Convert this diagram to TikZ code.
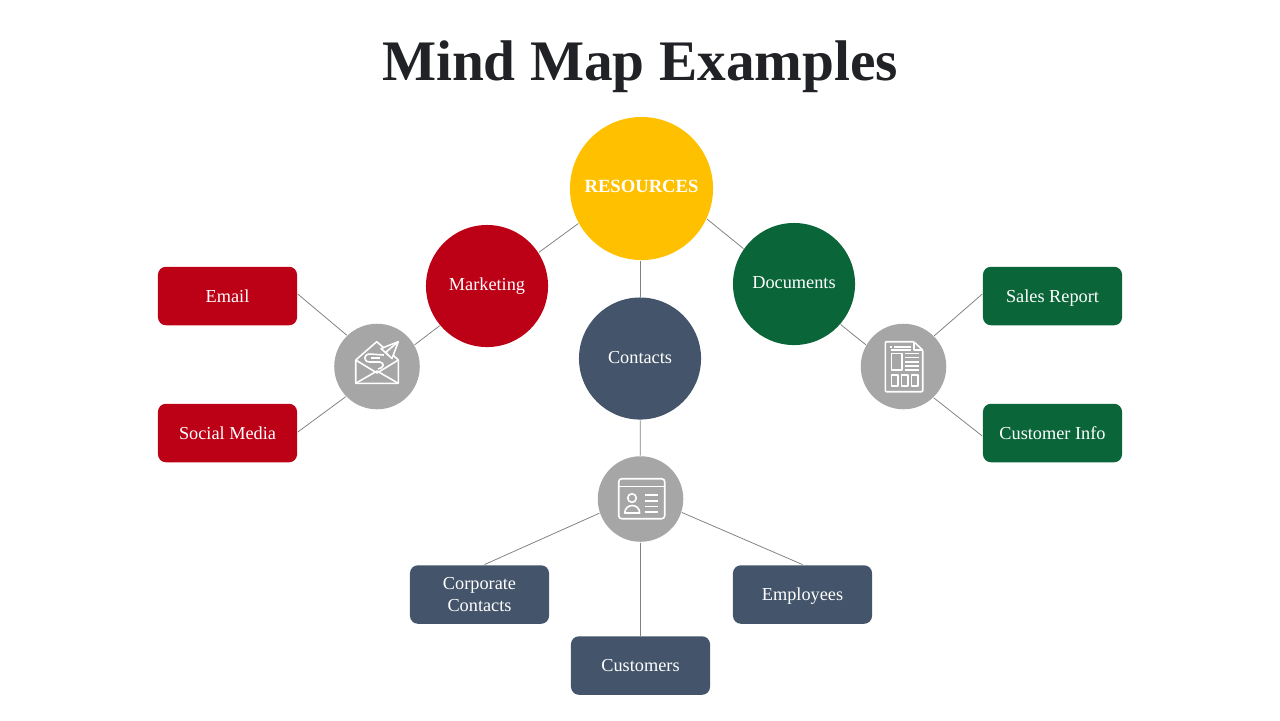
\documentclass[tikz,border=0pt]{standalone}
\usepackage{fontspec}
\setmainfont{Liberation Serif}
\usetikzlibrary{backgrounds,positioning}
\definecolor{resyellow}{HTML}{FFC000}
\definecolor{mapred}{HTML}{BC0016}
\definecolor{mapgreen}{HTML}{0A6539}
\definecolor{mapslate}{HTML}{44546A}
\definecolor{mapgrey}{HTML}{A6A6A6}
\definecolor{titleink}{HTML}{212226}
\tikzset{%
	hub/.style      = {circle, text=white, inner sep=0pt, minimum size=1.22cm, font=\fontsize{5.2}{6.2}\selectfont},
	iconhub/.style  = {circle, fill=mapgrey, inner sep=0pt, minimum size=0.855cm},
	leaf/.style     = {rectangle, rounded corners=0.08cm, text=white, inner sep=0pt, minimum width=1.39cm, minimum height=0.585cm, align=center, font=\fontsize{5.2}{6}\selectfont},
	oneline/.style  = {text height=0.14cm, text depth=0.02cm},
	link/.style     = {draw=black!50, line width=0.22pt},
	iconline/.style = {draw=white, line width=0.45pt, line join=round},
}
\begin{document}
\begin{tikzpicture}[x=0.01cm,y=-0.01cm]
	\useasboundingbox (0,0) rectangle (1280,720);
	\node[text=titleink,font=\fontsize{16.3}{18}\selectfont\bfseries] (title) at (640,67) {Mind Map Examples};
	% circles
	\node[hub,fill=resyellow,minimum size=1.43cm,font=\fontsize{5.3}{7}\selectfont\bfseries] (resources) at (641.5,188.5) {\raisebox{0.05cm}{RESOURCES}};
	\node[hub,fill=mapred] (marketing) at (487,286) {\raisebox{0.03cm}{Marketing}};
	\node[hub,fill=mapgreen] (documents) at (794,284) {\raisebox{0.03cm}{Documents}};
	\node[hub,fill=mapslate] (contacts) at (640,358.5) {\raisebox{0.02cm}{Contacts}};
	\node[iconhub] (mailhub) at (377,366.5) {};
	\node[iconhub] (dochub) at (903.5,366.5) {};
	\node[iconhub] (cardhub) at (640.5,499) {};
	% boxes
	\node[leaf,oneline,fill=mapred] (email) at (227.5,296) {Email};
	\node[leaf,oneline,fill=mapred] (social) at (227.5,433) {Social Media};
	\node[leaf,oneline,fill=mapgreen] (sales) at (1052.5,296) {Sales Report};
	\node[leaf,oneline,fill=mapgreen] (custinfo) at (1052.5,433) {Customer Info};
	\node[leaf,fill=mapslate] (corporate) at (479.5,594.5) {Corporate\\Contacts};
	\node[leaf,oneline,fill=mapslate] (employees) at (802.5,594.5) {Employees};
	\node[leaf,oneline,fill=mapslate] (customers) at (640.5,665.5) {Customers};
	% connectors
	\begin{scope}[on background layer]
		\draw[link] (resources.209) -- (marketing.33);
		\draw[link] (resources.-25) -- (documents.145);
		\draw[link] (resources.south -| contacts) -- (contacts);
		\draw[link] (marketing.220) -- (mailhub.30);
		\draw[link] (documents.-41) -- (dochub.150);
		\draw[link] (contacts) -- (cardhub);
		\draw[link] (mailhub.134) -- ([yshift=0.02cm]email.east);
		\draw[link] (mailhub.224) -- ([yshift=0.01cm]social.east);
		\draw[link] (dochub.45) -- ([yshift=0.02cm]sales.west);
		\draw[link] (dochub.-46) -- ([yshift=-0.03cm]custinfo.west);
		\draw[link] (cardhub.199) -- ([xshift=0.05cm]corporate.north);
		\draw[link] (cardhub.-18) -- (employees.north);
		\draw[link] (cardhub) -- (customers.north);
	\end{scope}
	% mail icon
	\draw[iconline] (355.7,360) -- (355.7,383.3) -- (398.3,383.3) -- (398.3,360) -- (393,355);
	\draw[iconline] (355.7,360) -- (376.7,341.7) -- (384,348);
	\draw[iconline] (355.7,360) -- (377,373) -- (398.3,360);
	\draw[iconline] (355.7,383.3) -- (377,371) -- (398.3,383.3);
	\draw[iconline] (398.3,341.7) -- (381,348.5) -- (392,358.5) -- cycle;
	\draw[iconline] (398.3,341.7) -- (386,352) -- (388,355);
	\draw[iconline] (384,355) -- (370,354) .. controls (363,354) and (363,362) .. (370,362) -- (380,362) .. controls (385,363) and (384,368) .. (378,369);
	\draw[iconline] (371,358) -- (380,358);
	% document icon
	\draw[iconline,rounded corners=0.01cm] (913.7,341.7) -- (885.3,341.7) -- (885.3,391.7) -- (922.7,391.7) -- (922.7,350) -- cycle;
	\draw[iconline] (913.7,341.7) -- (913.7,350) -- (922.7,350);
	\draw[iconline] (891.3,353.3) rectangle (902,370);
	\foreach \liney in {353.3,357.3,361.7,365.7,370}
		\draw[iconline] (905.3,\liney) -- (919.3,\liney);
	\draw[iconline] (890,346.7) -- (892,346.7) (894.3,346.7) -- (911,346.7);
	\draw[iconline] (891,350) -- (911,350);
	\foreach \boxx in {891.5,901.3,911.5}
		\draw[iconline] (\boxx,375) rectangle ++(6.5,10.7);
	% card icon
	\draw[iconline,rounded corners=0.03cm] (618.7,478.7) rectangle (664.7,518.7);
	\draw[iconline] (618.7,486.3) -- (664.7,486.3);
	\draw[iconline] (632,498) circle (0.043cm);
	\draw[iconline] (624.7,513) .. controls (625,503) and (639.5,503) .. (639.7,513) -- cycle;
	\foreach \liney in {494.7,501,506.3,512}
		\draw[iconline] (644.7,\liney) -- (658,\liney);
\end{tikzpicture}
\end{document}
